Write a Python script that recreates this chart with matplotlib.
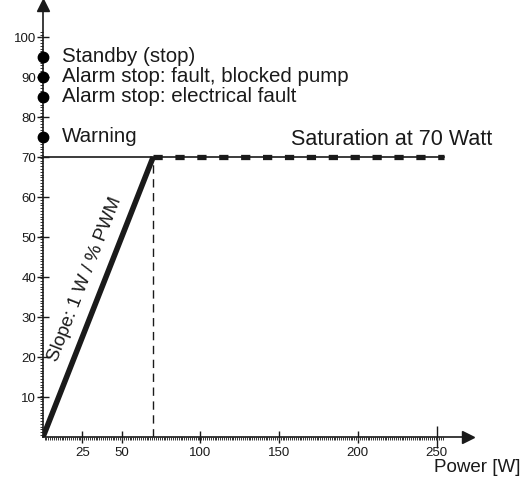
import matplotlib
matplotlib.use("Agg")
import matplotlib.pyplot as plt
import numpy as np

plt.rcParams["font.family"] = ["Liberation Sans", "DejaVu Sans"]

# data
slope_x = [0, 70]
slope_y = [0, 70]
sat_x = [70, 255]
sat_y = [70, 70]
limit_pwm = 70
status_pwm = [95, 90, 85, 75]
status_labels = ["Standby (stop)", "Alarm stop: fault, blocked pump",
                 "Alarm stop: electrical fault", "Warning"]
x_ticks = [25, 50, 100, 150, 200, 250]
y_ticks = [10, 20, 30, 40, 50, 60, 70, 80, 90, 100]

W, H = 528, 482
fig = plt.figure(figsize=(W / 100, H / 100), dpi=100)
x0, y0 = 43, 437
x1, y1 = 468, 5
ax = fig.add_axes([x0 / W, (H - y0) / H, (x1 - x0) / W, (y0 - y1) / H])
ax.set_xlim(0, (x1 - x0) / 1.574)
ax.set_ylim(0, (y0 - y1) / 4.0)

for s in ["top", "right"]:
    ax.spines[s].set_visible(False)
for s in ["left", "bottom"]:
    ax.spines[s].set_linewidth(1.2)
    ax.spines[s].set_color("#1a1a1a")

# arrow heads
ax.plot(1, 0, ">", color="#1a1a1a", ms=9, transform=ax.transAxes, clip_on=False)
ax.plot(0, 1, "^", color="#1a1a1a", ms=9, transform=ax.transAxes, clip_on=False)

ax.set_xticks(x_ticks)
ax.set_yticks(y_ticks)
ax.set_xticks(np.arange(1, 255, 1.2), minor=True)
ax.set_yticks(np.arange(0.5, 102, 0.7), minor=True)
ax.tick_params(which="major", direction="inout", length=8, width=1,
               labelsize=9.5, colors="#1a1a1a")
ax.tick_params(axis="x", which="major", pad=3)
ax.tick_params(axis="y", which="major", pad=1)
ax.tick_params(which="minor", direction="out", length=2, width=0.7,
               colors="#333333")
ax.xaxis.get_major_ticks()[-1].tick1line.set_markersize(16)

# reference lines
ax.plot([0, sat_x[1]], [limit_pwm, limit_pwm], color="#1a1a1a", lw=1.2)
ax.plot([limit_pwm, limit_pwm], [0, limit_pwm], color="#1a1a1a", lw=1,
        dashes=(6, 4))

# curve
ax.plot(slope_x, slope_y, color="#1a1a1a", lw=4, solid_capstyle="butt")
ax.plot(sat_x, sat_y, color="#1a1a1a", lw=3.8, dashes=(1.75, 2.4))

# status points
ax.plot([0] * len(status_pwm), status_pwm, "o", color="black", ms=7.5,
        clip_on=False, zorder=5)
for v, lab in zip(status_pwm, status_labels):
    ax.text(12, v, lab, fontsize=14.8, va="center", ha="left", color="#1a1a1a")

fig.text(492 / W, (H - 145) / H, "Saturation at 70 Watt", fontsize=15.5,
         ha="right", va="baseline", color="#1a1a1a")
ax.text(26.8, 39.3, "Slope: 1 W / % PWM", fontsize=13.5, rotation=68.6,
        rotation_mode="anchor", ha="center", va="center", color="#1a1a1a")
fig.text(520 / W, (H - 467) / H, "Power [W]", fontsize=13.5, ha="right",
         va="center", color="#1a1a1a")

fig.savefig("out.png", dpi=100)
